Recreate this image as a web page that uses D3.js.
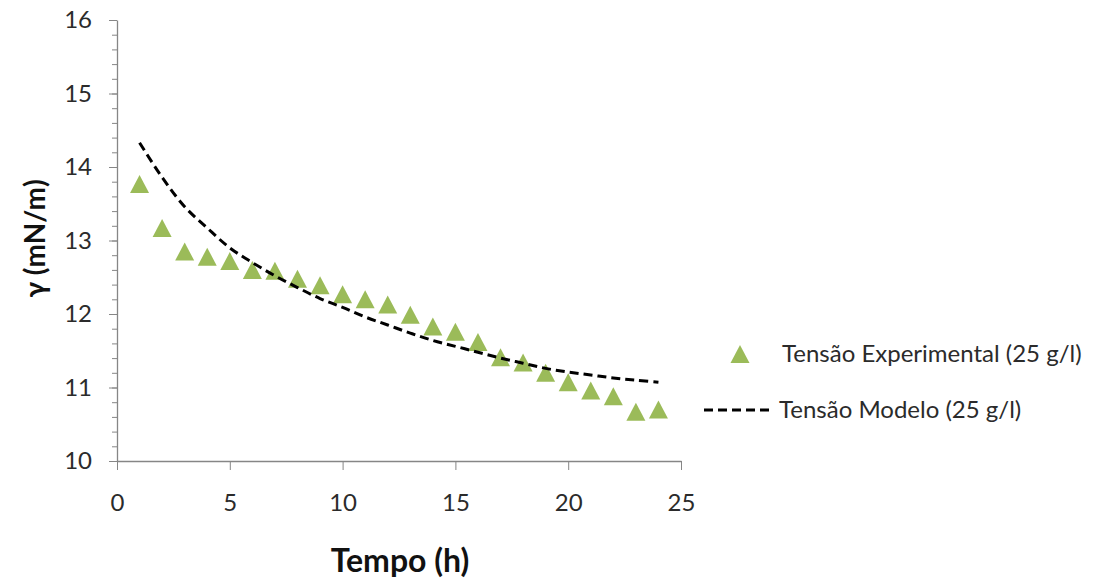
<!DOCTYPE html>
<html>
<head>
<meta charset="utf-8">
<script src="https://cdn.jsdelivr.net/npm/d3@7"></script>
<style>
  body { margin: 0; background: #fff; }
  svg { display: block; font-family: Lato, "Open Sans", sans-serif; }
</style>
</head>
<body>
<div id="chart"></div>
<script>
// Time (h)
const hours = [1, 2, 3, 4, 5, 6, 7, 8, 9, 10, 11, 12, 13, 14, 15, 16, 17, 18, 19, 20, 21, 22, 23, 24];
// Experimental surface tension (mN/m)
const tensionExp = [13.77, 13.17, 12.85, 12.78, 12.72, 12.60, 12.59, 12.48, 12.39, 12.27, 12.20, 12.13,
                    11.99, 11.83, 11.76, 11.62, 11.41, 11.34, 11.20, 11.07, 10.96, 10.88, 10.67, 10.70];
// Model surface tension (mN/m)
const tensionModel = [14.33, 13.86, 13.46, 13.17, 12.90, 12.70, 12.52, 12.36, 12.21, 12.09, 11.96, 11.85,
                      11.74, 11.64, 11.56, 11.48, 11.40, 11.33, 11.26, 11.21, 11.17, 11.13, 11.10, 11.07];

const xTicks = [0, 5, 10, 15, 20, 25];
const yTicks = [10, 11, 12, 13, 14, 15, 16];
const seriesNames = ['Tensão Experimental (25 g/l)', 'Tensão Modelo (25 g/l)'];

const W = 1103, H = 581;
const margin = { top: 20, right: 422, bottom: 120, left: 117 };
const width = W - margin.left - margin.right;
const height = H - margin.top - margin.bottom;

const axisColor = '#868686';
const textColor = '#2b2b2b';
const green = '#9bbb59';

const svg = d3.select('#chart').append('svg')
    .attr('width', W)
    .attr('height', H);

const g = svg.append('g')
    .attr('transform', `translate(${margin.left},${margin.top})`);

const xScale = d3.scaleLinear().domain([0, 25]).range([0, width]);
const yScale = d3.scaleLinear().domain([10, 16]).range([height, 0]);

// Y axis: minor ticks every 0.2, major every 1
const yMinor = d3.range(10, 16.001, 0.2);
g.append('g')
    .call(d3.axisLeft(yScale).tickValues(yMinor).tickSize(5).tickFormat(''))
    .call(a => a.select('.domain').remove())
    .selectAll('line').attr('stroke', axisColor);

const yAxis = g.append('g')
    .call(d3.axisLeft(yScale).tickValues(yTicks).tickSize(8).tickPadding(17)
        .tickSizeOuter(0).tickFormat(d3.format('d')));
yAxis.select('.domain').attr('stroke', axisColor).attr('stroke-width', 1.3);
yAxis.selectAll('line').attr('stroke', axisColor);
yAxis.selectAll('text')
    .attr('font-family', 'Lato, sans-serif')
    .attr('font-size', 24)
    .attr('fill', textColor);

// X axis
const xAxis = g.append('g')
    .attr('transform', `translate(0,${height})`)
    .call(d3.axisBottom(xScale).tickValues(xTicks).tickSize(9).tickPadding(24)
        .tickSizeOuter(0).tickFormat(d3.format('d')));
xAxis.select('.domain').attr('stroke', axisColor).attr('stroke-width', 1.3);
xAxis.selectAll('line').attr('stroke', axisColor);
xAxis.selectAll('text')
    .attr('font-family', 'Lato, sans-serif')
    .attr('font-size', 24)
    .attr('fill', textColor);

// Axis titles
g.append('text')
    .attr('x', width / 2 + 1)
    .attr('y', height + 111)
    .attr('text-anchor', 'middle')
    .attr('font-size', 32)
    .attr('font-weight', 'bold')
    .attr('fill', '#111')
    .text('Tempo (h)');

g.append('text')
    .attr('transform', 'rotate(-90)')
    .attr('x', -height / 2 + 2)
    .attr('y', -margin.left + 45)
    .attr('text-anchor', 'middle')
    .attr('font-size', 28)
    .attr('font-weight', 'bold')
    .attr('fill', '#111')
    .text('γ (mN/m)');

// Model curve (dashed)
const modelData = hours.map((h, i) => ({ x: h, y: tensionModel[i] }));
const line = d3.line()
    .x(d => xScale(d.x))
    .y(d => yScale(d.y))
    .curve(d3.curveCatmullRom);

// Triangle marker, centred on its bounding box
const tri = 'M0,-9L9.5,9L-9.5,9Z';

const expData = hours.map((h, i) => ({ x: h, y: tensionExp[i] }));
g.selectAll('.exp-point')
    .data(expData)
    .enter()
    .append('path')
    .attr('class', 'exp-point')
    .attr('d', tri)
    .attr('transform', d => `translate(${xScale(d.x)},${yScale(d.y)})`)
    .attr('fill', green);

g.append('path')
    .datum(modelData)
    .attr('d', line)
    .attr('fill', 'none')
    .attr('stroke', '#000')
    .attr('stroke-width', 3)
    .attr('stroke-dasharray', '9,5');

// Legend
const legend = svg.append('g').attr('class', 'legend');

legend.append('path')
    .attr('d', tri)
    .attr('transform', 'translate(740,354)')
    .attr('fill', green);

legend.append('text')
    .attr('x', 782)
    .attr('y', 362)
    .attr('font-size', 24)
    .attr('fill', textColor)
    .text(seriesNames[0]);

legend.append('line')
    .attr('x1', 704).attr('y1', 410)
    .attr('x2', 772).attr('y2', 410)
    .attr('stroke', '#000')
    .attr('stroke-width', 3)
    .attr('stroke-dasharray', '9,5');

legend.append('text')
    .attr('x', 779)
    .attr('y', 418)
    .attr('font-size', 24)
    .attr('fill', textColor)
    .text(seriesNames[1]);
</script>
</body>
</html>
